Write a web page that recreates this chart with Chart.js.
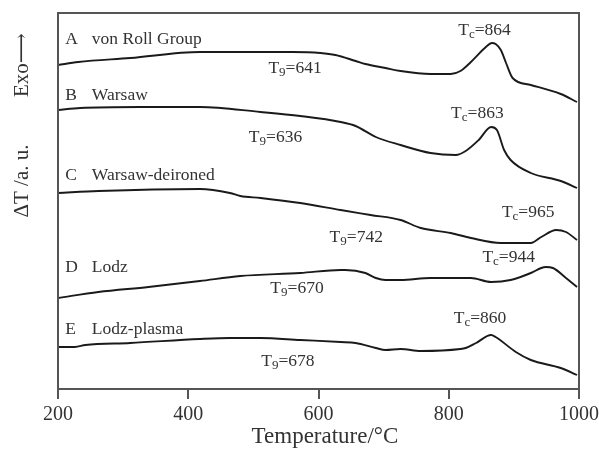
<!DOCTYPE html>
<html>
<head>
<meta charset="utf-8">
<script src="https://cdn.jsdelivr.net/npm/chart.js@4/dist/chart.umd.min.js"></script>
<style>
  body { margin: 0; background: #fff; }
  canvas { display: block; }
</style>
</head>
<body>
<canvas id="myChart" width="599" height="449"></canvas>
<script>
// DTA curves, temperature in degC, signal in arbitrary units (curves offset)
const tempA = [200, 231, 311, 418, 480, 560, 603, 626, 657, 672, 703, 726, 772, 803, 818, 834, 857, 866, 872, 880, 888, 898, 926, 972, 997];
const dtaA = [32.4, 32.7, 33.1, 33.7, 33.7, 33.7, 33.6, 33.4, 32.8, 32.5, 32.1, 31.8, 31.5, 31.5, 31.8, 32.7, 34.2, 34.6, 34.5, 33.9, 32.6, 31.1, 30.4, 29.5, 28.7];

const tempB = [200, 234, 326, 418, 511, 572, 634, 657, 688, 726, 772, 811, 826, 846, 865, 874, 885, 895, 926, 972, 997];
const dtaB = [27.9, 28.1, 28.2, 28.2, 27.7, 27.3, 26.7, 26.3, 25.2, 24.4, 23.6, 23.4, 23.8, 24.9, 26.2, 25.9, 23.9, 22.9, 21.6, 20.8, 20.1];

const tempC = [200, 262, 418, 464, 480, 511, 572, 634, 680, 726, 757, 803, 834, 880, 926, 942, 965, 980, 997];
const dtaC = [19.6, 19.8, 20.0, 19.6, 19.3, 19.1, 18.6, 17.9, 17.4, 16.9, 16.1, 15.6, 15.1, 14.6, 14.6, 15.2, 15.9, 15.7, 14.9];

const tempD = [200, 262, 339, 418, 480, 572, 634, 641, 672, 688, 703, 726, 772, 834, 865, 895, 926, 942, 949, 960, 980, 997];
const dtaD = [9.1, 9.7, 10.2, 10.8, 11.3, 11.6, 11.9, 11.9, 11.6, 11.1, 10.9, 10.9, 11.1, 11.1, 10.7, 10.9, 11.6, 12.1, 12.2, 12.1, 11.1, 10.2];

const tempE = [200, 226, 242, 311, 418, 464, 511, 572, 634, 657, 688, 703, 726, 757, 818, 826, 842, 865, 872, 903, 926, 972, 997];
const dtaE = [4.2, 4.2, 4.4, 4.6, 5.0, 5.1, 5.1, 4.9, 4.7, 4.6, 4.1, 3.9, 4.0, 3.8, 4.0, 4.1, 4.6, 5.4, 5.2, 3.7, 2.9, 2.1, 1.4];

const sampleLetters = ["A", "B", "C", "D", "E"];
const sampleNames = ["von Roll Group", "Warsaw", "Warsaw-deironed", "Lodz", "Lodz-plasma"];
const glassTemps = [641, 636, 742, 670, 678];
const crystTemps = [864, 863, 965, 944, 860];
const xTicks = [200, 400, 600, 800, 1000];

const serif = "'Liberation Serif', 'DejaVu Serif', serif";
const ink = "#333";

function toPoints(xs, ys) {
  return xs.map((x, i) => ({ x: x, y: ys[i] }));
}

// where the text labels sit (in data units)
const nameSpots = [[211, 252, 35.0], [211, 252, 29.4], [211, 252, 21.4], [211, 252, 12.2], [211, 252, 6.0]];
const glassSpots = [[564, 32.1], [534, 25.2], [658, 15.2], [567, 10.1], [553, 2.8]];
const crystSpots = [[855, 35.9], [844, 27.6], [922, 17.7], [892, 13.2], [848, 7.1]];

function subText(ctx, cx, cy, sub, rest) {
  // "T" + subscript + "=value", centred on cx
  ctx.font = "17.5px " + serif;
  const wT = ctx.measureText("T").width;
  const wR = ctx.measureText(rest).width;
  ctx.font = "13px " + serif;
  const wS = ctx.measureText(sub).width;
  let x = cx - (wT + wS + wR) / 2;
  ctx.textAlign = "left";
  ctx.textBaseline = "middle";
  ctx.font = "17.5px " + serif;
  ctx.fillText("T", x, cy);
  x += wT;
  ctx.font = "13px " + serif;
  ctx.fillText(sub, x, cy + 5);
  x += wS;
  ctx.font = "17.5px " + serif;
  ctx.fillText(rest, x, cy);
}

const textPlugin = {
  id: "dtaText",
  afterDraw(chart) {
    const ctx = chart.ctx;
    const xs = chart.scales.x;
    const ys = chart.scales.y;
    const a = chart.chartArea;
    ctx.save();
    // frame
    ctx.strokeStyle = "#555";
    ctx.lineWidth = 2;
    ctx.strokeRect(a.left, a.top, a.right - a.left, a.bottom - a.top);

    ctx.fillStyle = ink;
    ctx.textBaseline = "middle";
    ctx.textAlign = "left";
    for (let i = 0; i < sampleNames.length; i++) {
      const s = nameSpots[i];
      ctx.font = "17.5px " + serif;
      ctx.fillText(sampleLetters[i], xs.getPixelForValue(s[0]), ys.getPixelForValue(s[2]));
      ctx.fillText(sampleNames[i], xs.getPixelForValue(s[1]), ys.getPixelForValue(s[2]));
      subText(ctx, xs.getPixelForValue(glassSpots[i][0]), ys.getPixelForValue(glassSpots[i][1]), "9", "=" + glassTemps[i]);
      subText(ctx, xs.getPixelForValue(crystSpots[i][0]), ys.getPixelForValue(crystSpots[i][1]), "c", "=" + crystTemps[i]);
    }

    // axis titles
    ctx.font = "23px " + serif;
    ctx.textAlign = "center";
    ctx.fillText("Temperature/\u00B0C", 325, 437);
    ctx.translate(22, 0);
    ctx.rotate(-Math.PI / 2);
    ctx.font = "21px " + serif;
    ctx.fillText("\u0394T /a. u.", -181, 0);
    ctx.fillText("Exo\u27F6", -65, 0);
    ctx.restore();
  }
};

const lineStyle = {
  borderColor: "#1a1a1a",
  borderWidth: 1.9,
  pointRadius: 0,
  fill: false,
  tension: 0.4,
  cubicInterpolationMode: "monotone"
};

new Chart(document.getElementById("myChart").getContext("2d"), {
  type: "line",
  data: {
    datasets: [
      Object.assign({ label: sampleNames[0], data: toPoints(tempA, dtaA) }, lineStyle),
      Object.assign({ label: sampleNames[1], data: toPoints(tempB, dtaB) }, lineStyle),
      Object.assign({ label: sampleNames[2], data: toPoints(tempC, dtaC) }, lineStyle),
      Object.assign({ label: sampleNames[3], data: toPoints(tempD, dtaD) }, lineStyle),
      Object.assign({ label: sampleNames[4], data: toPoints(tempE, dtaE) }, lineStyle)
    ]
  },
  options: {
    responsive: false,
    animation: false,
    layout: { padding: { top: 13, right: 0, left: 0, bottom: 0 } },
    plugins: { legend: { display: false }, tooltip: { enabled: false } },
    scales: {
      x: {
        type: "linear",
        min: 200,
        max: 1000,
        afterBuildTicks: (scale) => { scale.ticks = xTicks.map(v => ({ value: v })); },
        afterFit: (scale) => { scale.height = 60; scale.paddingRight = 20; },
        ticks: { color: ink, font: { family: serif, size: 20 }, padding: 4, maxRotation: 0, callback: (v) => String(v) },
        grid: { drawOnChartArea: false, drawTicks: true, tickLength: 10, color: "#555", lineWidth: 2 },
        border: { display: true, color: "#555", width: 2 }
      },
      y: {
        min: 0,
        max: 37.6,
        afterFit: (scale) => { scale.width = 58; },
        ticks: { display: false },
        grid: { display: false },
        border: { display: true, color: "#555", width: 2 }
      }
    }
  },
  plugins: [textPlugin]
});
</script>
</body>
</html>
